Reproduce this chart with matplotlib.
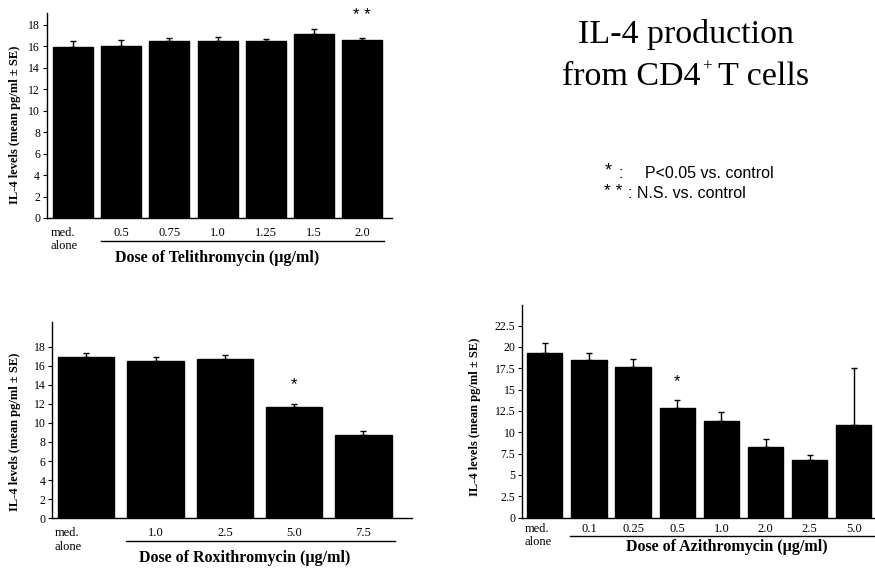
import matplotlib
matplotlib.use("Agg")
import matplotlib.pyplot as plt
from matplotlib.transforms import blended_transform_factory
import numpy as np

# ---------------- data ----------------
tel_labels = ["med.\nalone", "0.5", "0.75", "1.0", "1.25", "1.5", "2.0"]
tel_means = [15.9, 16.0, 16.45, 16.45, 16.45, 17.1, 16.57]
tel_err = [0.62, 0.54, 0.28, 0.42, 0.2, 0.5, 0.18]

rox_labels = ["med.\nalone", "1.0", "2.5", "5.0", "7.5"]
rox_means = [16.95, 16.45, 16.65, 11.7, 8.75]
rox_err = [0.4, 0.5, 0.42, 0.32, 0.36]

azi_labels = ["med.\nalone", "0.1", "0.25", "0.5", "1.0", "2.0", "2.5", "5.0"]
azi_means = [19.3, 18.45, 17.7, 12.85, 11.35, 8.3, 6.7, 10.8]
azi_err = [1.1, 0.78, 0.87, 0.95, 1.08, 0.9, 0.63, 6.67]

W, H = 875, 571
fig = plt.figure(figsize=(W / 100, H / 100), dpi=100)
SERIF = ["Liberation Serif", "DejaVu Serif"]
SANS = ["Liberation Sans", "DejaVu Sans"]


def rect(l, r, b, t):
    return [l / W, (H - b) / H, (r - l) / W, (b - t) / H]


def panel(r, labels, means, errs, ylim, yticks, yticklabels, xlim, width,
          pad, drug, ul_y, xl_y, xl_x, yl_x, yl_y, stars=None):
    ax = fig.add_axes(rect(*r))
    x = np.arange(len(means))
    ax.bar(x, means, width=width, color="black", edgecolor="black", zorder=2)
    ax.errorbar(x, means, yerr=[np.zeros(len(errs)), errs], fmt="none",
                ecolor="black", elinewidth=1.0, capsize=2.2, capthick=1.0,
                zorder=1)
    ax.set_xlim(*xlim)
    ax.set_ylim(*ylim)
    ax.set_yticks(yticks)
    ax.set_yticklabels(yticklabels, family=SERIF, fontsize=8.5)
    ax.tick_params(axis="y", length=3, width=0.8, pad=2)
    ax.set_xticks(x[1:])
    ax.set_xticklabels(labels[1:], family=SERIF, fontsize=9)
    ax.tick_params(axis="x", length=0, pad=pad)
    for s in ["top", "right"]:
        ax.spines[s].set_visible(False)
    for s in ["left", "bottom"]:
        ax.spines[s].set_linewidth(1.0)
    trans = blended_transform_factory(ax.transData, ax.transAxes)
    ax_h = r[2] - r[3]
    lab_top = -(pad * 100 / 72) / ax_h
    ax.text(x[0] - width / 2 - 0.05, lab_top, labels[0], transform=trans,
            ha="left", va="top", family=SERIF, fontsize=9, linespacing=1.15)
    uy = (r[2] - ul_y) / ax_h
    ax.plot([x[1] - 0.42, x[-1] + 0.45], [uy, uy], transform=trans,
            color="black", lw=1.0, clip_on=False)
    fig.text(xl_x / W, (H - xl_y) / H, "Dose of %s (\u00b5g/ml)" % drug,
             ha="center", va="center", family=SERIF, fontsize=11.5,
             fontweight="bold")
    fig.text(yl_x / W, (H - yl_y) / H, "IL-4 levels (mean pg/ml \u00b1 SE)",
             ha="center", va="center", rotation=90, family=SERIF,
             fontsize=9, fontweight="bold")
    if stars:
        for idx, s in stars:
            ax.text(x[idx], means[idx] + errs[idx] + 1.2, s, ha="center",
                    va="bottom", family=SANS, fontsize=12)
    return ax


ax1 = panel((47, 392, 218, 13), tel_labels, tel_means, tel_err,
            (0, 19.1), np.arange(0, 19, 2), [str(v) for v in range(0, 19, 2)],
            (-0.54, 6.62), 0.83, 6.5, "Telithromycin", 240.7, 258, 217, 15,
            124.5)
ax1.text(6, 18.2, "* *", ha="center", va="bottom", family=SANS, fontsize=12)

panel((52.3, 412, 518.3, 321.7), rox_labels, rox_means, rox_err,
      (0, 20.6), np.arange(0, 19, 2), [str(v) for v in range(0, 19, 2)],
      (-0.49, 4.70), 0.81, 6.5, "Roxithromycin", 540.7, 558, 245, 15, 431.5,
      stars=[(3, "*")])

azi_ticks = [0, 2.5, 5, 7.5, 10, 12.5, 15, 17.5, 20, 22.5]
panel((522.3, 875, 517.7, 305), azi_labels, azi_means, azi_err,
      (0, 24.9), azi_ticks, ["%g" % v for v in azi_ticks],
      (-0.51, 7.48), 0.8, 3.5, "Azithromycin", 536, 547, 727, 475, 416.7,
      stars=[(3, "*")])

# title
TS = 24.5
fig.text(686 / W, (H - 35) / H, "IL-4 production", ha="center", va="center",
         family=SERIF, fontsize=TS)
renderer = fig.canvas.get_renderer()
left_part = "from CD4"
right_part = "T cells"
tmp1 = fig.text(0, 0, left_part, family=SERIF, fontsize=TS)
tmp2 = fig.text(0, 0, right_part, family=SERIF, fontsize=TS)
tmp3 = fig.text(0, 0, "+", family=SERIF, fontsize=TS * 0.5)
w1 = tmp1.get_window_extent(renderer).width
w2 = tmp2.get_window_extent(renderer).width
w3 = tmp3.get_window_extent(renderer).width
for t in (tmp1, tmp2, tmp3):
    t.remove()
gap = 8
total = w1 + w3 + gap + w2
x0 = 686 - total / 2
y2 = (H - 77) / H
fig.text(x0 / W, y2, left_part, ha="left", va="center", family=SERIF,
         fontsize=TS)
fig.text((x0 + w1 + 1) / W, (H - 67) / H, "+", ha="left", va="center",
         family=SERIF, fontsize=TS * 0.5)
fig.text((x0 + w1 + w3 + gap) / W, y2, right_part, ha="left", va="center",
         family=SERIF, fontsize=TS)

# legend note
fig.text(605 / W, (H - 171) / H, "*", ha="left", va="center", family=SANS,
         fontsize=13)
fig.text(618 / W, (H - 173) / H, ":", ha="left", va="center", family=SANS,
         fontsize=11.5)
fig.text(645 / W, (H - 173) / H, "P<0.05 vs. control", ha="left",
         va="center", family=SANS, fontsize=11.5)
fig.text(604 / W, (H - 191) / H, "* *", ha="left", va="center", family=SANS,
         fontsize=12.5)
fig.text(628 / W, (H - 193) / H, ": N.S. vs. control", ha="left",
         va="center", family=SANS, fontsize=11.5)

fig.savefig("out.png", dpi=100)
